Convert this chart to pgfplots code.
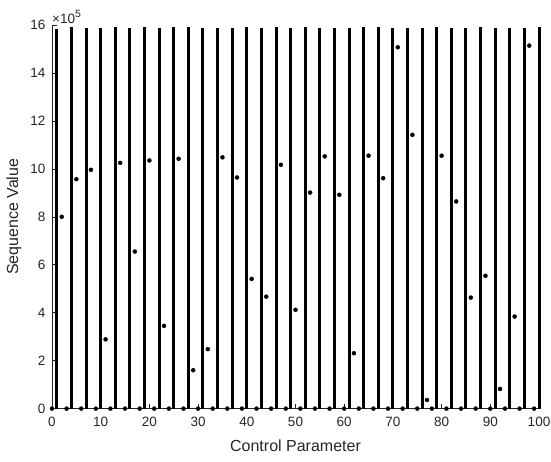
\documentclass[border=0pt]{standalone}
\usepackage{fontspec}
\setmainfont{Liberation Sans}
\usepackage{pgfplots}
\usepackage{pgfplotstable}
\pgfplotsset{compat=1.18}

\definecolor{axgray}{RGB}{38,38,38}

% dense columns: parameter value and top of the spread of values
\pgfplotstableread{
x top
1 1585000
4 1590000
7 1588000
10 1587000
13 1590000
16 1588000
19 1590000
22 1588000
25 1590000
28 1590000
31 1588000
34 1588000
37 1587000
40 1590000
43 1589000
46 1590000
49 1589000
52 1590000
55 1588000
58 1588000
61 1589000
64 1590000
67 1590000
70 1588000
73 1588000
76 1587000
79 1590000
82 1588000
85 1589000
88 1590000
91 1588000
94 1589000
97 1587000
100 1590000
}\columns

% single values
\pgfplotstableread{
x y
2 800000
5 957000
8 996000
11 289000
14 1025000
17 655000
20 1035000
23 345000
26 1042000
29 160000
32 248000
35 1048000
38 964000
41 541000
44 467000
47 1017000
50 412000
53 901000
56 1052000
59 892000
62 231000
65 1055000
68 961000
71 1507000
74 1142000
77 36000
80 1055000
83 864000
86 463000
89 554000
92 82000
95 384000
98 1514000
}\singles

% zero values
\pgfplotstableread{
x y
0 0
3 0
6 0
9 0
12 0
15 0
18 0
21 0
24 0
27 0
30 0
33 0
36 0
39 0
42 0
45 0
48 0
51 0
54 0
57 0
60 0
63 0
66 0
69 0
72 0
75 0
78 0
81 0
84 0
87 0
90 0
93 0
96 0
99 0
}\zeros

\begin{document}
\begin{tikzpicture}
\path[use as bounding box] (-52pt,-52.4pt) rectangle (499pt,408.6pt);
\begin{axis}[
  scale only axis,
  width=487pt, height=383.6pt,
  xmin=0, xmax=100, ymin=0, ymax=1600000,
  axis x line*=bottom, axis y line*=left,
  axis line style={axgray, line width=0.6pt},
  tick style={axgray, line width=0.6pt},
  tick align=inside, major tick length=5pt,
  xtick={0,10,20,30,40,50,60,70,80,90,100},
  ytick={0,200000,400000,600000,800000,1000000,1200000,1400000,1600000},
  scaled y ticks=base 10:-5,
  ytick scale label code/.code={},
  /pgf/number format/assume math mode=true,
  yticklabel style={/pgf/number format/fixed, xshift=-3pt},
  xticklabel style={yshift=-5pt},
  ticklabel style={font=\fontsize{13.5}{15}\selectfont, text=axgray},
  xlabel={Control Parameter},
  ylabel={Sequence Value},
  label style={font=\fontsize{16}{19}\selectfont, text=axgray},
  xlabel style={at={(axis description cs:0.5,-0.0965)}, anchor=center},
  ylabel style={at={(axis description cs:-0.078,0.5)}, anchor=center},
  clip=false,
]
\addplot[ycomb, black, line width=3pt, mark=none] table[x=x, y=top] {\columns};
\addplot[only marks, black, mark=*, mark size=2pt] table[x=x, y=y] {\singles};
\addplot[only marks, black, mark=*, mark size=2pt] table[x=x, y=y] {\zeros};
\node[anchor=south west, inner sep=0pt, text=axgray, font=\fontsize{13.5}{15}\selectfont]
  at (rel axis cs:0,1) [yshift=1pt] {×10\raisebox{0.45em}{\fontsize{10.5}{12}\selectfont 5}};
\end{axis}
\end{tikzpicture}
\end{document}
